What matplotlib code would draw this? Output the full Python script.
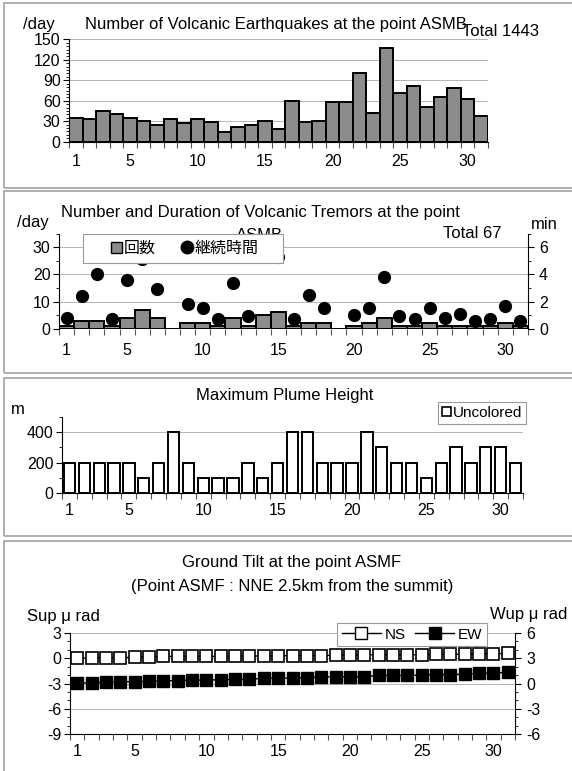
"""
Monthly volcanic activity summary - four stacked panels
"""

import numpy as np
import matplotlib.pyplot as plt
from matplotlib.patches import Rectangle, Patch
from matplotlib.lines import Line2D
from matplotlib.ticker import MultipleLocator

plt.rcParams['font.family'] = ['Liberation Sans', 'DejaVu Sans']
plt.rcParams['axes.unicode_minus'] = False

# ---- data ----
days = np.arange(1, 32)
xtick_days = [1, 5, 10, 15, 20, 25, 30]

quake_counts = [35, 33, 45, 40, 35, 31, 25, 33, 28, 33, 29, 14, 22, 25, 31, 19,
                60, 29, 31, 58, 58, 100, 42, 137, 71, 81, 51, 65, 78, 63, 38]

tremor_counts = [1, 3, 3, 1, 4, 7, 4, 0, 2, 2, 1, 4, 1, 5, 6, 1,
                 2, 2, 0, 1, 2, 4, 1, 1, 2, 1, 1, 1, 1, 2, 1]
tremor_minutes = [0.8, 2.4, 4.0, 0.7, 3.6, 5.1, 2.9, np.nan, 1.8, 1.5, 0.7, 3.4, 0.9, 5.6, 5.3, 0.7,
                  2.5, 1.5, np.nan, 1.0, 1.5, 3.8, 0.9, 0.7, 1.5, 0.8, 1.1, 0.6, 0.7, 1.7, 0.6]

plume_height = [200, 200, 200, 200, 200, 100, 200, 400, 200, 100, 100, 100, 200, 100, 200, 400,
                400, 200, 200, 200, 400, 300, 200, 200, 100, 200, 300, 200, 300, 300, 200]

tilt_ns = [0.0, 0.0, 0.05, 0.05, 0.1, 0.15, 0.2, 0.2, 0.2, 0.2, 0.2, 0.25, 0.25, 0.25, 0.25, 0.3,
           0.3, 0.3, 0.35, 0.35, 0.4, 0.4, 0.4, 0.4, 0.4, 0.45, 0.45, 0.45, 0.5, 0.5, 0.55]
tilt_ew = [0.05, 0.1, 0.15, 0.2, 0.2, 0.25, 0.3, 0.35, 0.4, 0.4, 0.45, 0.5, 0.5, 0.6, 0.65, 0.65,
           0.7, 0.75, 0.8, 0.8, 0.8, 0.95, 0.95, 0.95, 1.0, 1.05, 1.05, 1.1, 1.2, 1.25, 1.3]

W, H = 572, 771
fig = plt.figure(figsize=(W / 100, H / 100), dpi=100)

FS_TICK = 11.5
FS_TITLE = 12
GRID = '#b4b4b4'
BOX = '#a8a8a8'
BAR_GRAY = '#8c8c8c'


def px_axes(x0, y0, x1, y1):
    return fig.add_axes([x0 / W, 1 - y1 / H, (x1 - x0) / W, (y1 - y0) / H])


def px_box(x0, y0, x1, y1):
    fig.patches.append(Rectangle((x0 / W, 1 - y1 / H), (x1 - x0) / W, (y1 - y0) / H,
                                 transform=fig.transFigure, fill=False, ec=BOX, lw=1.3))


def px_text(x, y, s, **kw):
    kw.setdefault('fontsize', FS_TITLE)
    fig.text(x / W, 1 - y / H, s, va='center', **kw)


def day_axis(ax, pad=8):
    ax.set_xlim(0.5, 31.5)
    ax.set_xticks(xtick_days)
    ax.set_xticks(np.arange(0.5, 32), minor=True)
    ax.tick_params(axis='x', which='major', length=0, pad=pad, labelsize=FS_TICK)
    ax.tick_params(axis='x', which='minor', length=4, width=0.8, direction='out', color='#555555')
    ax.tick_params(axis='y', which='major', length=4, labelsize=FS_TICK, pad=2)
    ax.tick_params(axis='y', which='minor', length=2.5)
    for s in ['top', 'right']:
        ax.spines[s].set_visible(False)
    ax.yaxis.grid(True, color=GRID, lw=0.7)
    ax.set_axisbelow(True)


def right_axis(axr):
    axr.tick_params(axis='y', which='major', length=4, labelsize=FS_TICK, pad=4)
    axr.tick_params(axis='y', which='minor', length=2.5)
    for s in ['top', 'left', 'bottom']:
        axr.spines[s].set_visible(False)


# ---- panel boxes ----
px_box(4, 3, 580, 188)
px_box(4, 191, 580, 373)
px_box(4, 378, 580, 536)
px_box(4, 541, 580, 790)

# ---- Panel 1: volcanic earthquakes ----
ax1 = px_axes(69, 39.3, 488, 141.7)
ax1.bar(days, quake_counts, width=1.0, color=BAR_GRAY, edgecolor='black', lw=1.4)
ax1.set_ylim(0, 150)
ax1.yaxis.set_major_locator(MultipleLocator(30))
ax1.yaxis.set_minor_locator(MultipleLocator(5))
day_axis(ax1, pad=9)
px_text(276, 24, 'Number of Volcanic Earthquakes at the point ASMB', ha='center')
px_text(39, 25, '/day', ha='center')
px_text(501, 31, 'Total 1443', ha='center')

# ---- Panel 2: volcanic tremors ----
ax2 = px_axes(59, 233.7, 528, 328.7)
ax2.bar(days, tremor_counts, width=1.0, color=BAR_GRAY, edgecolor='black', lw=1.4)
ax2.set_ylim(0, 35)
ax2.yaxis.set_major_locator(MultipleLocator(10))
ax2.yaxis.set_minor_locator(MultipleLocator(5))
day_axis(ax2, pad=10)
ax2.spines['bottom'].set_visible(False)
ax2r = ax2.twinx()
ax2r.plot(days, tremor_minutes, 'o', color='black', ms=8.5, clip_on=False)
ax2r.set_ylim(0, 7)
ax2r.yaxis.set_major_locator(MultipleLocator(2))
ax2r.yaxis.set_minor_locator(MultipleLocator(1))
right_axis(ax2r)
px_text(260, 212, 'Number and Duration of Volcanic Tremors at the point', ha='center')
ax2r.text(260 / W, 1 - 236 / H, 'ASMB', transform=fig.transFigure, ha='center', va='center',
          fontsize=FS_TITLE, zorder=2)
px_text(33, 222, '/day', ha='center')
px_text(472, 233, 'Total 67', ha='center')
px_text(544, 224, 'min', ha='center')
# legend frame is drawn by hand so the wide white box matches the original
ax2r.add_patch(Rectangle((83 / W, 1 - 263 / H), 200 / W, 29 / H, transform=fig.transFigure,
                         facecolor='white', edgecolor='#999999', lw=0.8, zorder=9, clip_on=False))
leg_handles = [Patch(facecolor=BAR_GRAY, edgecolor='black', lw=1.0, label='回数'),
               Line2D([], [], ls='none', marker='o', color='black', ms=9, label='継続時間')]
leg2 = ax2r.legend(handles=leg_handles, ncol=2, loc='center left',
                   bbox_to_anchor=(111 / W, 1 - 248.5 / H), bbox_transform=fig.transFigure,
                   borderaxespad=0, frameon=False,
                   handlelength=0.7, handleheight=0.7, handletextpad=0.1,
                   columnspacing=1.6, borderpad=0.0,
                   prop={'family': ['Noto Sans CJK JP', 'DejaVu Sans'], 'size': 11.5})
leg2.set_zorder(10)

# ---- Panel 3: plume height ----
ax3 = px_axes(62, 417, 523, 493)
ax3.bar(days, plume_height, width=0.76, color='white', edgecolor='black', lw=1.4)
ax3.set_ylim(0, 500)
ax3.set_yticks([0, 200, 400])
ax3.yaxis.set_minor_locator(MultipleLocator(100))
day_axis(ax3, pad=7)
ax3.yaxis.grid(False)
ax3.axhline(400, color=GRID, lw=0.7, zorder=0)
px_text(285, 396, 'Maximum Plume Height', ha='center')
px_text(18, 410, 'm', ha='center')
leg3 = ax3.legend(handles=[Patch(facecolor='white', edgecolor='black', lw=1.2, label='Uncolored')],
                  loc='upper left', bbox_to_anchor=(438 / W, 1 - 402 / H),
                  bbox_transform=fig.transFigure, borderaxespad=0,
                  frameon=True, fancybox=False, edgecolor='#999999', framealpha=1,
                  handlelength=0.6, handleheight=0.6, handletextpad=0.15, borderpad=0.25,
                  fontsize=11)
leg3.get_frame().set_linewidth(0.8)

# ---- Panel 4: ground tilt ----
ax4 = px_axes(70, 632.7, 515, 734.3)
ax4.plot(days, tilt_ns, color='black', lw=1.0, marker='s', ms=8.5, mfc='white', mec='black',
         mew=1.2, clip_on=False, zorder=3)
ax4.set_ylim(-9, 3)
ax4.yaxis.set_major_locator(MultipleLocator(3))
ax4.yaxis.set_minor_locator(MultipleLocator(1))
day_axis(ax4, pad=7)
ax4r = ax4.twinx()
ax4r.plot(days, tilt_ew, color='black', lw=1.0, marker='s', ms=8.5, mfc='black', mec='black',
          clip_on=False)
ax4r.set_ylim(-6, 6)
ax4r.yaxis.set_major_locator(MultipleLocator(3))
ax4r.yaxis.set_minor_locator(MultipleLocator(1))
right_axis(ax4r)
px_text(292, 563, 'Ground Tilt at the point ASMF', ha='center')
px_text(292, 587, '(Point ASMF : NNE 2.5km from the summit)', ha='center')
px_text(27, 617, 'Sup μ rad', ha='left')
px_text(567, 614, 'Wup μ rad', ha='right')
leg4_handles = [Line2D([], [], color='black', lw=1.0, marker='s', ms=8, mfc='white', mec='black', label='NS'),
                Line2D([], [], color='black', lw=1.0, marker='s', ms=8, mfc='black', label='EW')]
leg4 = ax4r.legend(handles=leg4_handles, ncol=2, loc='upper left',
                   bbox_to_anchor=(337 / W, 1 - 623 / H), bbox_transform=fig.transFigure,
                   borderaxespad=0, frameon=True, fancybox=False, edgecolor='#999999',
                   framealpha=1, handlelength=2.6, handletextpad=0.2, columnspacing=0.6,
                   borderpad=0.3, fontsize=11)
leg4.get_frame().set_linewidth(0.8)
leg4.set_zorder(10)

plt.savefig('out.png', dpi=100)
